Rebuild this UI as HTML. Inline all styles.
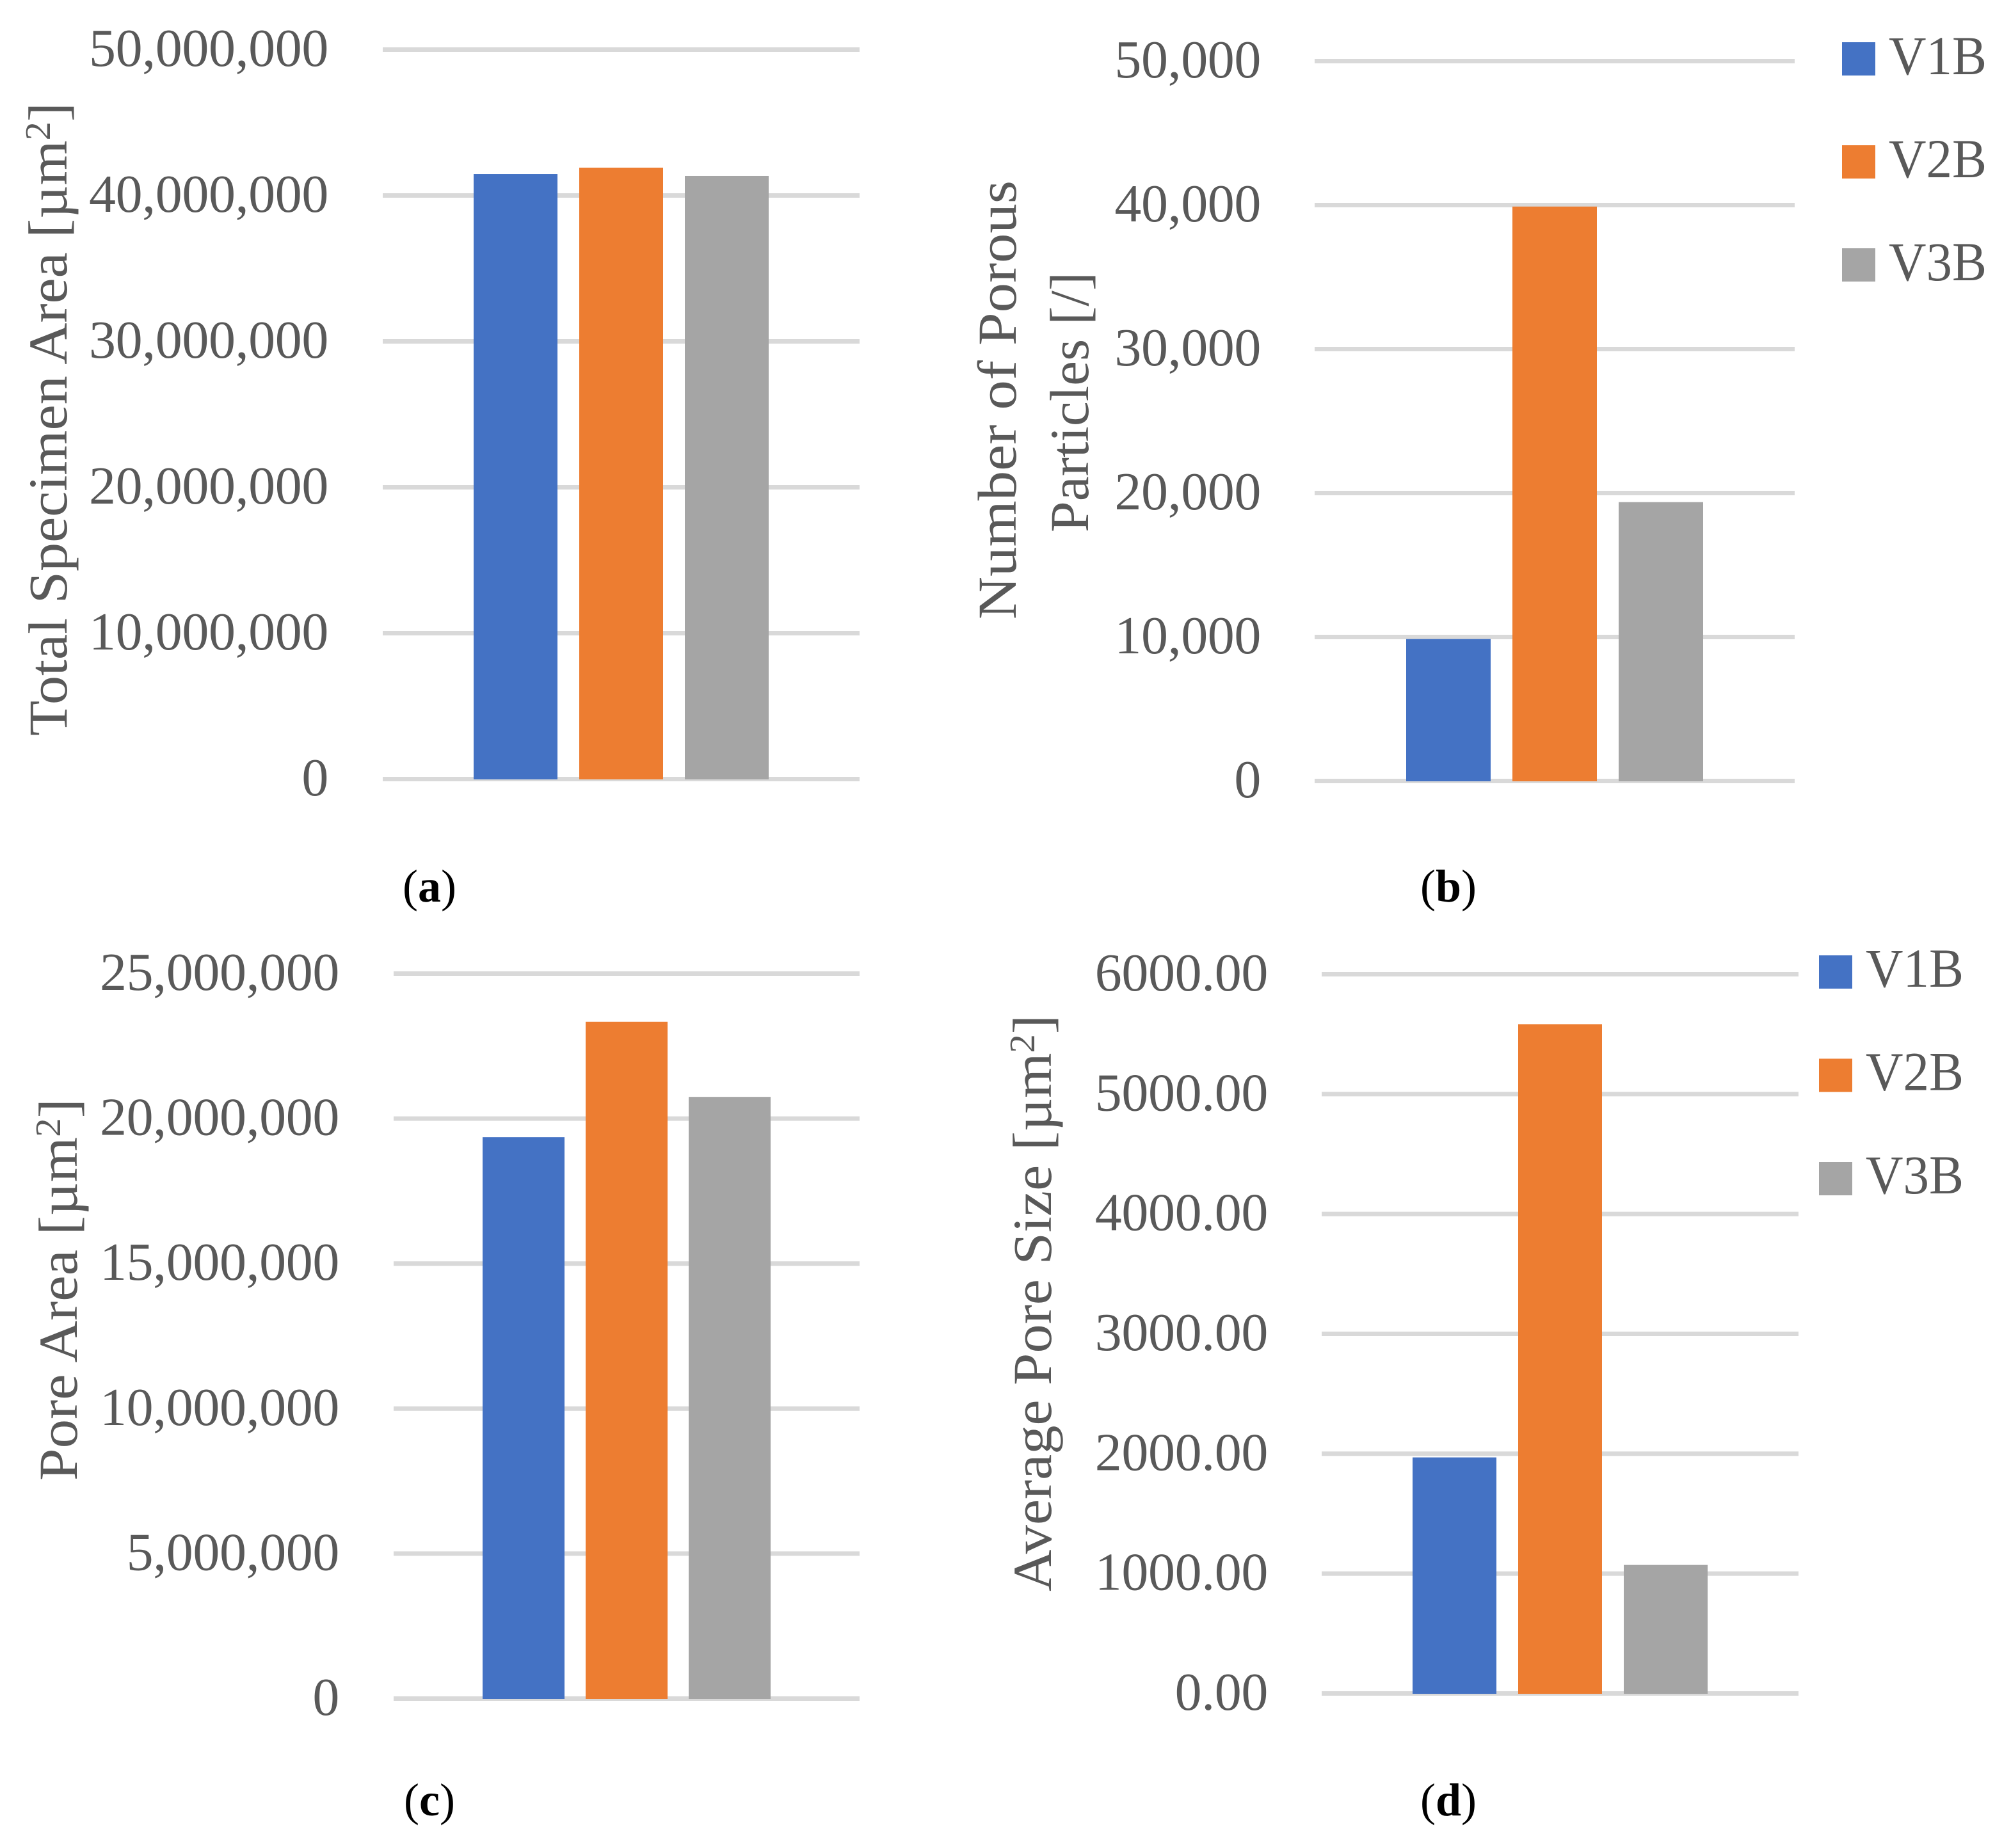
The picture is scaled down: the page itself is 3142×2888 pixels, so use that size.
<!DOCTYPE html>
<html lang="en">
<head>
<meta charset="utf-8">
<title>Specimen area and porosity bar charts</title>
<style>
  html, body { margin: 0; padding: 0; background: #ffffff; }
  body { width: 3142px; height: 2888px; overflow: hidden; }
  svg { display: block; }
  text { font-family: "Liberation Serif", "DejaVu Serif", serif; fill: #595959; font-size: 86px; }
  text.tick { font-size: 84px; letter-spacing: -0.4px; }
  .caption { fill: #000000; font-size: 72px; }
  .caption tspan.bold { font-weight: bold; }
  tspan.sup { font-size: 56px; }
</style>
</head>
<body>
<svg id="figure" xmlns="http://www.w3.org/2000/svg" width="3142" height="2888" viewBox="0 0 3142 2888">
  <rect x="0" y="0" width="3142" height="2888" fill="#ffffff"/>

  <text x="104" y="1150" transform="rotate(-90 104 1150)" textLength="990" lengthAdjust="spacingAndGlyphs">Total Specimen Area [µm<tspan class="sup" dy="-26">2</tspan><tspan dy="26">]</tspan></text>
  <text x="1587" y="968" transform="rotate(-90 1587 968)" textLength="686" lengthAdjust="spacingAndGlyphs">Number of Porous</text>
  <text x="1700" y="832" transform="rotate(-90 1700 832)" textLength="407" lengthAdjust="spacingAndGlyphs">Particles [/]</text>
  <text x="120" y="2314" transform="rotate(-90 120 2314)" textLength="597" lengthAdjust="spacingAndGlyphs">Pore Area [µm<tspan class="sup" dy="-26">2</tspan><tspan dy="26">]</tspan></text>
  <text x="1642" y="2487" transform="rotate(-90 1642 2487)" textLength="901" lengthAdjust="spacingAndGlyphs">Average Pore Size [µm<tspan class="sup" dy="-26">2</tspan><tspan dy="26">]</tspan></text>

  <text class="caption" x="671" y="1409" text-anchor="middle">(<tspan class="bold">a</tspan>)</text>
  <text class="caption" x="2263" y="1409" text-anchor="middle">(<tspan class="bold">b</tspan>)</text>
  <text class="caption" x="671" y="2837" text-anchor="middle">(<tspan class="bold">c</tspan>)</text>
  <text class="caption" x="2263" y="2837" text-anchor="middle">(<tspan class="bold">d</tspan>)</text>
</svg>

<script>
// Series shared by every panel
var seriesNames = ['V1B', 'V2B', 'V3B'];
var seriesColors = ['#4472C4', '#ED7D31', '#A5A5A5'];

// Panel (a) Total specimen area
var panelAValues = [41490000, 41930000, 41360000];
var panelATicks = [0, 10000000, 20000000, 30000000, 40000000, 50000000];
var panelATickLabels = ['0', '10,000,000', '20,000,000', '30,000,000', '40,000,000', '50,000,000'];

// Panel (b) Number of porous particles
var panelBValues = [9880, 39920, 19390];
var panelBTicks = [0, 10000, 20000, 30000, 40000, 50000];
var panelBTickLabels = ['0', '10,000', '20,000', '30,000', '40,000', '50,000'];

// Panel (c) Pore area
var panelCValues = [19370000, 23350000, 20760000];
var panelCTicks = [0, 5000000, 10000000, 15000000, 20000000, 25000000];
var panelCTickLabels = ['0', '5,000,000', '10,000,000', '15,000,000', '20,000,000', '25,000,000'];

// Panel (d) Average pore size
var panelDValues = [1972, 5586, 1075];
var panelDTicks = [0, 1000, 2000, 3000, 4000, 5000, 6000];
var panelDTickLabels = ['0.00', '1000.00', '2000.00', '3000.00', '4000.00', '5000.00', '6000.00'];

var SVG_NS = 'http://www.w3.org/2000/svg';
var figure = document.getElementById('figure');

function makeEl(tag, attrs) {
  var el = document.createElementNS(SVG_NS, tag);
  for (var key in attrs) {
    el.setAttribute(key, attrs[key]);
  }
  return el;
}

function drawPanel(panel, values, ticks, tickLabels, layout) {
  var maxTick = Math.max.apply(null, ticks);
  function yScale(v) {
    return layout.baseY - (v / maxTick) * (layout.baseY - layout.topY);
  }
  function barX(i) {
    return layout.firstBarX + i * layout.barPitch;
  }

  ticks.forEach(function (tick, i) {
    var gridY = yScale(tick);
    var grid = makeEl('rect', { x: layout.gridLeft, y: gridY - 4, width: layout.gridRight - layout.gridLeft, height: 7, fill: '#D9D9D9' });
    
    
    figure.appendChild(grid);

    var label = makeEl('text', { x: layout.labelRight, y: gridY + 25, 'text-anchor': 'end', 'class': 'tick' });
    
    
    label.textContent = tickLabels[i];
    figure.appendChild(label);
  });

  values.forEach(function (value, i) {
    var top = yScale(value);
    var bar = makeEl('rect', { x: barX(i), y: top, width: layout.barWidth, height: layout.baseY - top, fill: seriesColors[i] });
    
    
    figure.appendChild(bar);
  });
}

function drawLegend(panel, layout) {
  seriesNames.forEach(function (name, i) {
    var swatch = makeEl('rect', { x: layout.swatchX, y: layout.firstSwatchY + i * layout.pitch, width: 52, height: 52, fill: seriesColors[i] });
    
    
    figure.appendChild(swatch);

    var label = makeEl('text', { x: layout.textX, y: layout.firstBaseline + i * layout.pitch, textLength: 153, lengthAdjust: 'spacingAndGlyphs' });
    
    
    label.textContent = name;
    figure.appendChild(label);
  });
}

drawPanel('a', panelAValues, panelATicks, panelATickLabels, {
  baseY: 1218, topY: 78, gridLeft: 598, gridRight: 1343, labelRight: 513,
  firstBarX: 740, barPitch: 165, barWidth: 131
});
drawPanel('b', panelBValues, panelBTicks, panelBTickLabels, {
  baseY: 1221, topY: 96, gridLeft: 2054, gridRight: 2804, labelRight: 1970,
  firstBarX: 2197, barPitch: 166, barWidth: 132
});
drawPanel('c', panelCValues, panelCTicks, panelCTickLabels, {
  baseY: 2655, topY: 1522, gridLeft: 615, gridRight: 1343, labelRight: 530,
  firstBarX: 754, barPitch: 161, barWidth: 128
});
drawPanel('d', panelDValues, panelDTicks, panelDTickLabels, {
  baseY: 2647, topY: 1523, gridLeft: 2065, gridRight: 2810, labelRight: 1981,
  firstBarX: 2207, barPitch: 165, barWidth: 131
});

drawLegend('b', { swatchX: 2878, firstSwatchY: 66, textX: 2951, firstBaseline: 116, pitch: 161 });
drawLegend('d', { swatchX: 2842, firstSwatchY: 1493, textX: 2915, firstBaseline: 1542, pitch: 161.5 });
</script>
</body>
</html>
